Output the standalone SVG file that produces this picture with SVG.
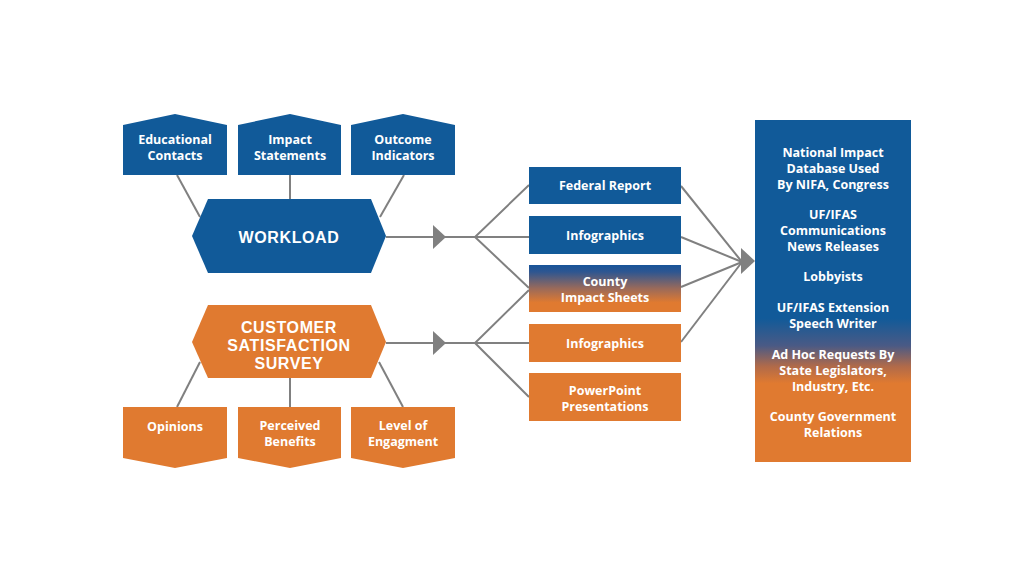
<svg xmlns="http://www.w3.org/2000/svg" width="1024" height="576" viewBox="0 0 1024 576">
<defs>
<linearGradient id="gCounty" x1="0" y1="0" x2="0" y2="1">
<stop offset="0" stop-color="#17549a"/>
<stop offset="0.15" stop-color="#2f5690"/>
<stop offset="0.5" stop-color="#9a6a5a"/>
<stop offset="0.8" stop-color="#e07a30"/>
<stop offset="1" stop-color="#e07a30"/>
</linearGradient>
<linearGradient id="gRight" gradientUnits="userSpaceOnUse" x1="0" y1="120" x2="0" y2="462">
<stop offset="0" stop-color="#115a99"/>
<stop offset="0.58" stop-color="#115a99"/>
<stop offset="0.66" stop-color="#4a5a85"/>
<stop offset="0.72" stop-color="#b06a4a"/>
<stop offset="0.77" stop-color="#e07a30"/>
<stop offset="1" stop-color="#e07a30"/>
</linearGradient>
<style>
.blue{fill:#115a99}
.orange{fill:#e07a30}
.t{font-family:"Open Sans","Liberation Sans",sans-serif;font-weight:700;fill:#ffffff;text-anchor:middle;font-size:12.5px}
.big{font-family:"Liberation Sans","Open Sans",sans-serif;font-weight:700;fill:#ffffff;text-anchor:middle;font-size:16px;letter-spacing:0.6px}
.ln{stroke:#808080;stroke-width:2;fill:none}
.ah{fill:#808080}
</style>
</defs>
<rect width="1024" height="576" fill="#ffffff"/>
<g id="connectors">
<line class="ln" x1="177" y1="175" x2="200" y2="217"/>
<line class="ln" x1="290" y1="175" x2="290" y2="199"/>
<line class="ln" x1="404" y1="175" x2="380" y2="217"/>
<line class="ln" x1="177" y1="407" x2="200" y2="362"/>
<line class="ln" x1="290" y1="378" x2="290" y2="407"/>
<line class="ln" x1="403" y1="407" x2="379" y2="362"/>
<line class="ln" x1="386" y1="237" x2="475" y2="237"/>
<polygon class="ah" points="433,225 446,237 433,249"/>
<line class="ln" x1="386" y1="343" x2="475" y2="343"/>
<polygon class="ah" points="433,331 446,343 433,355"/>
<polyline class="ln" points="529,185 475,237 529,237"/>
<line class="ln" x1="475" y1="237" x2="529" y2="288"/>
<polyline class="ln" points="529,290 475,343 529,343"/>
<line class="ln" x1="475" y1="343" x2="529" y2="397"/>
<line class="ln" x1="681" y1="186" x2="742" y2="262"/>
<line class="ln" x1="681" y1="237" x2="742" y2="262"/>
<line class="ln" x1="681" y1="287" x2="742" y2="262"/>
<line class="ln" x1="681" y1="342" x2="742" y2="262"/>
<polygon class="ah" points="741,248 755,261 741,274"/>
</g>
<g id="educational-contacts">
<polygon class="blue" points="123,125 175,114 227,125 227,175 123,175"/>
<text class="t" x="175" y="144">Educational</text>
<text class="t" x="175" y="160">Contacts</text>
</g>
<g id="impact-statements">
<polygon class="blue" points="238,125 290,114 341,125 341,175 238,175"/>
<text class="t" x="290" y="144">Impact</text>
<text class="t" x="290" y="160">Statements</text>
</g>
<g id="outcome-indicators">
<polygon class="blue" points="351,125 403,114 455,125 455,175 351,175"/>
<text class="t" x="403" y="144">Outcome</text>
<text class="t" x="403" y="160">Indicators</text>
</g>
<g id="workload">
<polygon class="blue" points="208,199 371,199 386,236 371,273 208,273 192,236"/>
<text class="big" x="289" y="242.5">WORKLOAD</text>
</g>
<g id="customer-satisfaction-survey">
<polygon class="orange" points="208,305 371,305 386,342 371,378 208,378 192,342"/>
<text class="big" x="289" y="333">CUSTOMER</text>
<text class="big" x="289" y="351">SATISFACTION</text>
<text class="big" x="289" y="369">SURVEY</text>
</g>
<g id="opinions">
<polygon class="orange" points="123,407 227,407 227,458 175,468 123,458"/>
<text class="t" x="175" y="431">Opinions</text>
</g>
<g id="perceived-benefits">
<polygon class="orange" points="238,407 341,407 341,458 290,468 238,458"/>
<text class="t" x="290" y="430">Perceived</text>
<text class="t" x="290" y="446">Benefits</text>
</g>
<g id="level-of-engagment">
<polygon class="orange" points="351,407 455,407 455,458 403,468 351,458"/>
<text class="t" x="403" y="430">Level of</text>
<text class="t" x="403" y="446">Engagment</text>
</g>
<g id="federal-report">
<rect class="blue" x="529" y="167" width="152" height="37"/>
<text class="t" x="605" y="190">Federal Report</text>
</g>
<g id="infographics-blue">
<rect class="blue" x="529" y="216" width="152" height="38"/>
<text class="t" x="605" y="240">Infographics</text>
</g>
<g id="county-impact-sheets">
<rect x="529" y="265" width="152" height="47" fill="url(#gCounty)"/>
<text class="t" x="605" y="286">County</text>
<text class="t" x="605" y="302">Impact Sheets</text>
</g>
<g id="infographics-orange">
<rect class="orange" x="529" y="324" width="152" height="38"/>
<text class="t" x="605" y="348">Infographics</text>
</g>
<g id="powerpoint-presentations">
<rect class="orange" x="529" y="373" width="152" height="48"/>
<text class="t" x="605" y="395">PowerPoint</text>
<text class="t" x="605" y="411">Presentations</text>
</g>
<g id="outlets">
<rect x="755" y="120" width="156" height="342" fill="url(#gRight)"/>
<text class="t" x="833" y="157">National Impact</text>
<text class="t" x="833" y="173">Database Used</text>
<text class="t" x="833" y="189">By NIFA, Congress</text>
<text class="t" x="833" y="219">UF/IFAS</text>
<text class="t" x="833" y="235">Communications</text>
<text class="t" x="833" y="251">News Releases</text>
<text class="t" x="833" y="281">Lobbyists</text>
<text class="t" x="833" y="312">UF/IFAS Extension</text>
<text class="t" x="833" y="328">Speech Writer</text>
<text class="t" x="833" y="359">Ad Hoc Requests By</text>
<text class="t" x="833" y="375">State Legislators,</text>
<text class="t" x="833" y="391">Industry, Etc.</text>
<text class="t" x="833" y="421">County Government</text>
<text class="t" x="833" y="437">Relations</text>
</g>
</svg>
